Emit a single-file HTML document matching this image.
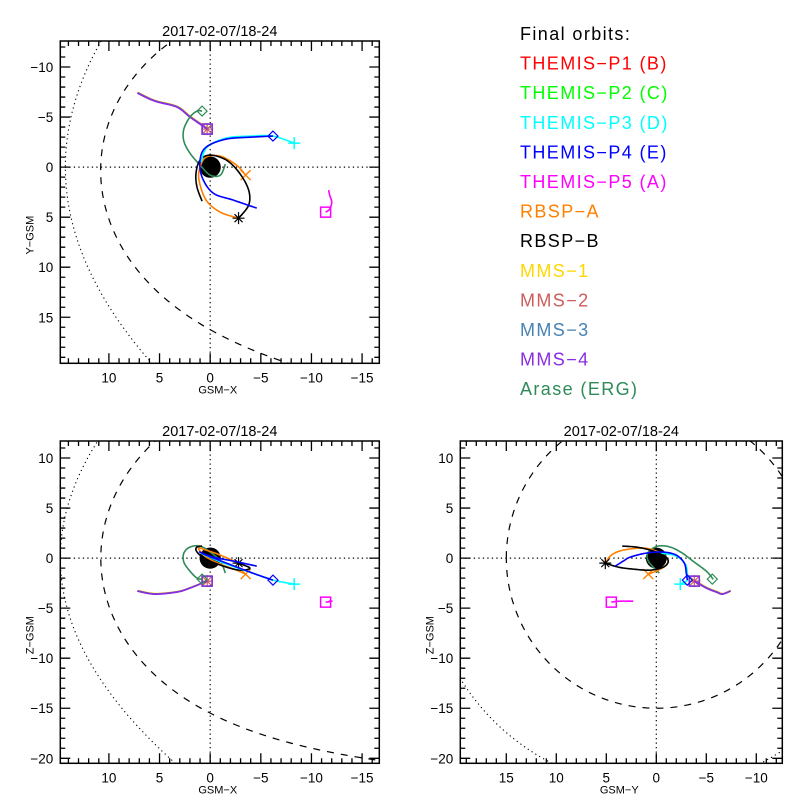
<!DOCTYPE html>
<html><head><meta charset="utf-8"><style>
html,body{margin:0;padding:0;background:#fff;width:800px;height:800px;overflow:hidden;}
svg{display:block;font-family:"Liberation Sans",sans-serif;}
</style></head><body>
<svg id="chart" width="800" height="800" viewBox="0 0 800 800" xmlns="http://www.w3.org/2000/svg">
<g id="legend" font-size="18"></g>
</svg>
<script>
// ---- data (GSM coordinates, Earth radii) ----
const mmsX = [7.2, 5.5, 3.3, 2.0, 0.3];
const mmsY = [-7.4, -6.6, -6.0, -5.0, -3.8];
const mmsZ = [-3.3, -3.6, -3.4, -3.0, -2.3];
const araseX = [-1.5, -1.0, 0.0, 1.0, 2.0, 2.6, 2.6, 2.0, 1.3, 0.8];
const araseY = [-0.3, 0.8, 0.8, -0.2, -1.4, -2.6, -3.8, -5.0, -5.6, -5.6];
const araseZ = [-1.5, -0.3, 0.6, 1.2, 1.1, 0.5, -0.4, -1.3, -2.0, -2.1];
const p4X = [-4.6, -2.3, -0.3, 0.8, 1.0, 0.4, -1.6, -4.2, -6.2];
const p4Y = [4.1, 3.3, 2.6, 1.0, -0.7, -2.0, -2.8, -3.0, -3.1];
const p4Z = [-0.8, -0.3, 0.1, 0.5, 0.6, 0.3, -0.5, -1.5, -2.2];
const p3X = [0.9, 0.3, -1.6, -4.2, -6.2, -8.3];
const p3Y = [-0.5, -2.0, -2.9, -3.1, -3.1, -2.4];
const p3Z = [0.5, 0.2, -0.6, -1.5, -2.2, -2.6];
const p5X = [-11.7, -11.8, -12.0, -11.8, -11.4];
const p5Y = [2.3, 2.8, 3.5, 4.2, 4.5];
const p5Z = [-4.3, -4.3, -4.3, -4.35, -4.4];
const rbaX = [-2.8, -1.0, 0.4, 1.1, 1.0, 0.4, -1.0, -2.6, -3.5];
const rbaY = [5.1, 4.5, 3.3, 1.3, 0.0, -1.0, -1.1, -0.2, 0.8];
const rbaZ = [-0.5, 0.3, 0.8, 1.0, 0.7, 0.1, -0.6, -1.2, -1.6];
const rbbX = [0.8, 1.3, 1.4, 1.0, 0.0, -1.6, -2.9, -3.8, -3.8, -2.8];
const rbbY = [3.4, 2.0, 0.6, -0.7, -1.2, -0.7, 0.6, 2.3, 3.8, 5.1];
const rbbZ = [1.2, 1.1, 0.8, 0.3, -0.3, -0.9, -1.2, -1.1, -0.9, -0.5];
const xTicks = [10, 5, 0, -5, -10, -15];
const yTicksTop = [-10, -5, 0, 5, 10, 15];
const zTicks = [10, 5, 0, -5, -10, -15, -20];
const yTicksBottom = [15, 10, 5, 0, -5, -10];
const legendLabels = ["Final orbits:","THEMIS-P1 (B)","THEMIS-P2 (C)","THEMIS-P3 (D)","THEMIS-P4 (E)","THEMIS-P5 (A)","RBSP-A","RBSP-B","MMS-1","MMS-2","MMS-3","MMS-4","Arase (ERG)"];
const legendColors = ["#000","#ff0000","#00ff00","#00ffff","#0000ff","#ff00ff","#ff8000","#000","#ffd700","#cd5c5c","#4682b4","#8a2be2","#2e8b57"];
const mpNose = 10.8, mpAlpha = 0.52, mpYZ = 15, bsYZ = 23;

const NS = "http://www.w3.org/2000/svg";
const svg = document.getElementById('chart');
function mk(tag, attrs, parent){const e=document.createElementNS(NS,tag);for(const k in attrs)e.setAttribute(k,attrs[k]);(parent||svg).appendChild(e);return e;}
const fmt = v => (v<0?"\u2212"+(-v):""+v);

const sc = [
 {name:'themis-p5',X:p5X,Y:p5Y,Z:p5Z,c:'#ff00ff',m:'square'},
 {name:'mms-1',X:mmsX,Y:mmsY,Z:mmsZ,c:'#ffd700',m:'square',off:0.6},
 {name:'mms-2',X:mmsX,Y:mmsY,Z:mmsZ,c:'#cd5c5c',m:'asterisk',off:0.4},
 {name:'mms-3',X:mmsX,Y:mmsY,Z:mmsZ,c:'#4682b4',m:'square',off:0.2},
 {name:'mms-4',X:mmsX,Y:mmsY,Z:mmsZ,c:'#8a2be2',m:'square',off:0},
 {name:'arase',X:araseX,Y:araseY,Z:araseZ,c:'#2e8b57',m:'diamond'},
 {name:'rbsp-a',X:rbaX,Y:rbaY,Z:rbaZ,c:'#ff8000',m:'x'},
 {name:'rbsp-b',X:rbbX,Y:rbbY,Z:rbbZ,c:'#000',m:'asterisk'},
 {name:'themis-p3',X:p3X,Y:p3Y,Z:p3Z,c:'#00ffff',m:'plus'},
 {name:'themis-p4',X:p4X,Y:p4Y,Z:p4Z,c:'#0000ff',m:'diamond'}
];

function spline(pts){
  if(pts.length<3) return pts;
  const out=[];
  for(let i=0;i<pts.length-1;i++){
    const p0=pts[Math.max(i-1,0)],p1=pts[i],p2=pts[i+1],p3=pts[Math.min(i+2,pts.length-1)];
    for(let t=0;t<1;t+=0.1){
      const t2=t*t,t3=t2*t;
      out.push([0.5*((2*p1[0])+(-p0[0]+p2[0])*t+(2*p0[0]-5*p1[0]+4*p2[0]-p3[0])*t2+(-p0[0]+3*p1[0]-3*p2[0]+p3[0])*t3),
                0.5*((2*p1[1])+(-p0[1]+p2[1])*t+(2*p0[1]-5*p1[1]+4*p2[1]-p3[1])*t2+(-p0[1]+3*p1[1]-3*p2[1]+p3[1])*t3)]);
    }
  }
  out.push(pts[pts.length-1]);return out;
}

function marker(g,type,x,y,c){
  const s=5;let el;
  if(type==='square') el=mk('rect',{x:x-s,y:y-s,width:2*s,height:2*s,fill:'none',stroke:c,'stroke-width':1.5},g);
  else if(type==='diamond') el=mk('path',{d:`M${x-s} ${y}L${x} ${y-s}L${x+s} ${y}L${x} ${y+s}Z`,fill:'none',stroke:c,'stroke-width':1.2},g);
  else if(type==='plus') el=mk('path',{d:`M${x-6} ${y}H${x+6}M${x} ${y-6}V${y+6}`,stroke:c,'stroke-width':1.5},g);
  else if(type==='x') el=mk('path',{d:`M${x-5} ${y-5}L${x+5} ${y+5}M${x-5} ${y+5}L${x+5} ${y-5}`,stroke:c,'stroke-width':1.3},g);
  else el=mk('path',{d:`M${x-6} ${y}H${x+6}M${x} ${y-6}V${y+6}M${x-4} ${y-4}L${x+4} ${y+4}M${x-4} ${y+4}L${x+4} ${y-4}`,stroke:c,'stroke-width':1.2},g);
  
  
}

function panel(id,box,hr,vr,hc,vc,hTicks,vTicks,hTitle,vTitle,plane,bsN,bsK,rot){
  const g=mk('g',{});
  
  
  const sx=v=>box.x0+(v-hr[0])/(hr[1]-hr[0])*(box.x1-box.x0);
  const sy=v=>box.y0+(v-vr[0])/(vr[1]-vr[0])*(box.y1-box.y0);
  const cp=mk('clipPath',{id:id+'-clip'},g);
  mk('rect',{x:box.x0,y:box.y0,width:box.x1-box.x0,height:box.y1-box.y0},cp);
  const pg=mk('g',{'clip-path':`url(#${id}-clip)`},g);
  const zl=mk('path',{d:`M${sx(0)} ${box.y0}V${box.y1}M${box.x0} ${sy(0)}H${box.x1}`,stroke:'#000','stroke-width':1.2,'stroke-dasharray':'1.3 3.2',fill:'none'},pg);
  
  
  let mp=[],bs=[];
  if(plane==='yz'){
    for(let a=0;a<=360;a+=2){const r=a*Math.PI/180;mp.push([sx(mpYZ*Math.cos(r)),sy(mpYZ*Math.sin(r))]);bs.push([sx(bsYZ*Math.cos(r)),sy(bsYZ*Math.sin(r))]);}
  } else {
    const cr=Math.cos(rot*Math.PI/180),sr=Math.sin(rot*Math.PI/180);
    for(let a=-165;a<=165;a+=1){const t=a*Math.PI/180;
      const r1=mpNose*Math.pow(2/(1+Math.cos(t)),mpAlpha);
      const X=r1*Math.cos(t),V=r1*Math.sin(t);
      mp.push([sx(X*cr-V*sr),sy(X*sr+V*cr)]);}
    for(let v=-30;v<=30;v+=0.5){bs.push([sx(bsN-v*v/bsK),sy(v)]);}
  }
  const mpEl=mk('path',{d:'M'+mp.map(p=>p.join(' ')).join('L'),fill:'none',stroke:'#000','stroke-width':1.2,'stroke-dasharray':'7 7'},pg);
  
  
  const bsEl=mk('path',{d:'M'+bs.map(p=>p.join(' ')).join('L'),fill:'none',stroke:'#000','stroke-width':1.1,'stroke-dasharray':'1.2 3.3'},pg);
  
  
  const earth=mk('circle',{cx:sx(0),cy:sy(0),r:Math.abs(sx(1.05)-sx(0)),fill:'#000'},pg);
  
  
  for(const s of sc){
    const H=s[hc],V=s[vc];
    const pts=spline(H.map((h,i)=>[sx(h),sy(V[i])]));
    const o=s.off||0;
    const line=mk('path',{d:'M'+pts.map(p=>(p[0]+o)+' '+(p[1]-o)).join('L'),fill:'none',stroke:s.c,'stroke-width':1.6},pg);
    
    
    const last=H.length-1;
    marker(pg,s.m,sx(H[last]),sy(V[last]),s.c);
  }
  mk('rect',{x:box.x0,y:box.y0,width:box.x1-box.x0,height:box.y1-box.y0,fill:'none',stroke:'#000','stroke-width':1.5},g);
  let d='';
  const hmin=Math.ceil(Math.min(...hr)),hmax=Math.floor(Math.max(...hr));
  for(let v=hmin;v<=hmax;v++){const L=v%5===0?10:5,x=sx(v);d+=`M${x} ${box.y1}v${-L}M${x} ${box.y0}v${L}`;}
  const vmin=Math.ceil(Math.min(...vr)),vmax=Math.floor(Math.max(...vr));
  for(let v=vmin;v<=vmax;v++){const L=v%5===0?10:5,y=sy(v);d+=`M${box.x0} ${y}h${L}M${box.x1} ${y}h${-L}`;}
  mk('path',{d:d,stroke:'#000','stroke-width':1.3,fill:'none'},g);
  for(const v of hTicks){const t=mk('text',{x:sx(v),y:box.y1+19,'text-anchor':'middle','font-size':13.5},g);t.textContent=fmt(v);
    }
  for(const v of vTicks){const t=mk('text',{x:box.x0-7,y:sy(v)+5,'text-anchor':'end','font-size':13.5},g);t.textContent=fmt(v);
    }
  const ht=mk('text',{x:(box.x0+box.x1)/2-2,y:box.y1+30,'text-anchor':'middle','font-size':11},g);ht.textContent=hTitle;
  
  const vt=mk('text',{x:0,y:0,'text-anchor':'middle','font-size':11,transform:`translate(${box.x0-27},${(box.y0+box.y1)/2+33}) rotate(-90)`},g);vt.textContent=vTitle;
  
  const tt=mk('text',{x:(box.x0+box.x1)/2,y:box.y0-5,'text-anchor':'middle','font-size':14.5},g);tt.textContent='2017-02-07/18-24';
  
}

panel('xy-panel',{x0:60.3,y0:41,x1:379.3,y1:363.3},[14.8,-16.7],[-12.6,19.6],'X','Y',xTicks,yTicksTop,'GSM\u2212X','Y\u2212GSM','xy',14.3,45,-5);
panel('xz-panel',{x0:60.3,y0:441,x1:379.3,y1:763.3},[14.8,-16.7],[11.7,-20.5],'X','Z',xTicks,zTicks,'GSM\u2212X','Z\u2212GSM','xz',14.8,37,0);
panel('yz-panel',{x0:460.3,y0:441,x1:782.3,y1:763.3},[19.6,-12.6],[11.7,-20.5],'Y','Z',yTicksBottom,zTicks,'GSM\u2212Y','Z\u2212GSM','yz',0,1,0);

const lg=document.getElementById('legend');
legendLabels.forEach((lab,i)=>{
  const t=mk('text',{x:520,y:40+i*29.6,fill:legendColors[i],'letter-spacing':'1.4'},lg);
  t.textContent=lab.replace(/-/g,'\u2212');
  
  
});
</script>
</body></html>
